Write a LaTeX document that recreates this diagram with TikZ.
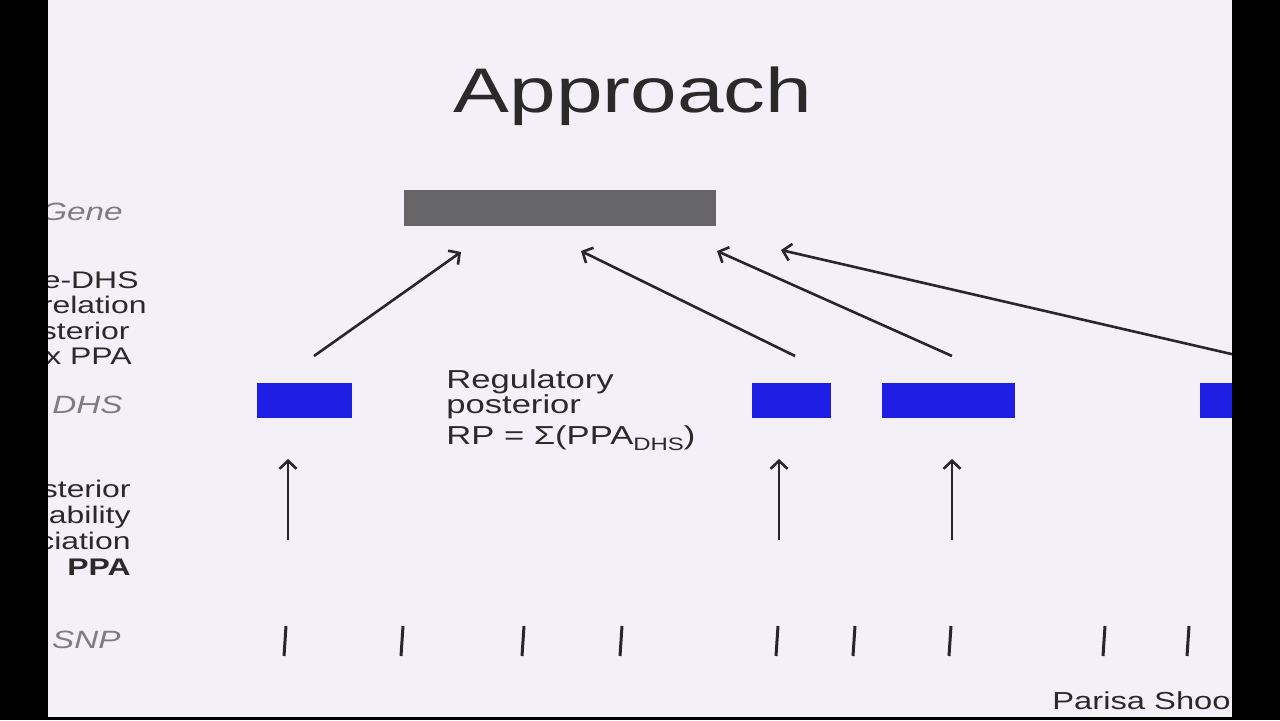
\documentclass[tikz,border=0pt]{standalone}
\usepackage{fontspec}
\setmainfont{Liberation Sans}[FakeStretch=1.33]
\usetikzlibrary{arrows.meta}
\definecolor{bgc}{RGB}{243,240,248}
\definecolor{txt}{RGB}{42,42,42}
\definecolor{labgray}{RGB}{125,125,128}
\definecolor{genegray}{RGB}{102,102,104}
\definecolor{dhsblue}{RGB}{30,30,228}
\definecolor{linec}{RGB}{40,38,42}
\begin{document}
\begin{tikzpicture}[x=0.5pt,y=-0.5pt,
  lab/.style={font=\fontsize{12}{14}\selectfont, text=txt, inner sep=0pt, anchor=base east},
  ilab/.style={lab, font=\fontsize{12.5}{14}\selectfont\itshape, text=labgray},
  bar/.style={inner sep=0pt, draw=none},
  arr/.style={draw=linec, line width=1.3pt, -{Straight Barb[length=4pt,width=8.5pt,line width=1.3pt]}},
  snptick/.style={draw=linec, line width=1.5pt}]
% background
\fill[bgc] (0,0) rectangle (1280,720);
% title
\node[font=\fontsize{31.5}{36}\selectfont, text=txt, inner sep=0pt, anchor=base] (title) at (633,112) {Approach};
% gene
\node[bar, fill=genegray, minimum width=156pt, minimum height=18pt] (gene) at (560,208) {};
% DHS boxes
\node[bar, fill=dhsblue, minimum width=47.5pt, minimum height=17.5pt] (d1) at (304.5,400.5) {};
\node[bar, fill=dhsblue, minimum width=39.5pt, minimum height=17.5pt] (d2) at (791.5,400.5) {};
\node[bar, fill=dhsblue, minimum width=66.5pt, minimum height=17.5pt] (d3) at (948.5,400.5) {};
\node[bar, fill=dhsblue, minimum width=30pt, minimum height=17.5pt] (d4) at (1230,400.5) {};
% gene-DHS arrows
\coordinate (a1s) at (314,356); \coordinate (a1e) at (461,252);
\coordinate (a2s) at (795,356); \coordinate (a2e) at (581,251);
\coordinate (a3s) at (952,356); \coordinate (a3e) at (717,251);
\coordinate (a4s) at (1240,356); \coordinate (a4e) at (781,250);
\draw[arr] (a1s) -- (a1e);
\draw[arr] (a2s) -- (a2e);
\draw[arr] (a3s) -- (a3e);
\draw[arr] (a4s) -- (a4e);
% SNP to DHS arrows
\coordinate (b1s) at (288,540); \coordinate (b1e) at (288,459);
\coordinate (b2s) at (779,540); \coordinate (b2e) at (779,459);
\coordinate (b3s) at (952,540); \coordinate (b3e) at (952,459);
\draw[arr] (b1s) -- (b1e);
\draw[arr] (b2s) -- (b2e);
\draw[arr] (b3s) -- (b3e);
% SNP ticks
\foreach \x [count=\i] in {285,402,523,621,777,854,950,1104,1188}{
  \coordinate (s\i b) at (\x-1,656);
  \coordinate (s\i t) at (\x+1,626);
  \draw[snptick] (s\i b) -- (s\i t);
}
% regulatory posterior text
\node[font=\fontsize{13}{12.8}\selectfont, text=txt, inner sep=0pt, align=left, anchor=north west] (reg) at (446,369)
  {Regulatory\\ posterior\\[2.5pt] RP = Σ(PPA\raisebox{-0.45ex}{\fontsize{9}{9}\selectfont DHS})};
% left labels
\node[ilab] (lgene) at (123,220) {Gene};
\node[lab] (l1a) at (139,288) {e-DHS};
\node[lab] (l1b) at (147,313) {relation};
\node[lab] (l1c) at (130,339) {sterior};
\node[lab] (l1d) at (132,364) {x PPA};
\node[ilab] (ldhs) at (123,413) {DHS};
\node[lab] (l2a) at (131,497) {sterior};
\node[lab] (l2b) at (131,523) {bability};
\node[lab] (l2c) at (131,549) {ciation};
\node[lab, font=\fontsize{12}{14}\selectfont\bfseries] (l2d) at (131,575) {PPA};
\node[ilab] (lsnp) at (121,648) {SNP};
% footer
\node[font=\fontsize{12.3}{14}\selectfont, text=txt, inner sep=0pt, anchor=base west] (author) at (1052,709) {Parisa Shoo};
% black borders
\fill[black] (0,0) rectangle (48,720);
\fill[black] (1232,0) rectangle (1280,720);
\fill[black] (0,717) rectangle (1280,720);
\end{tikzpicture}
\end{document}
